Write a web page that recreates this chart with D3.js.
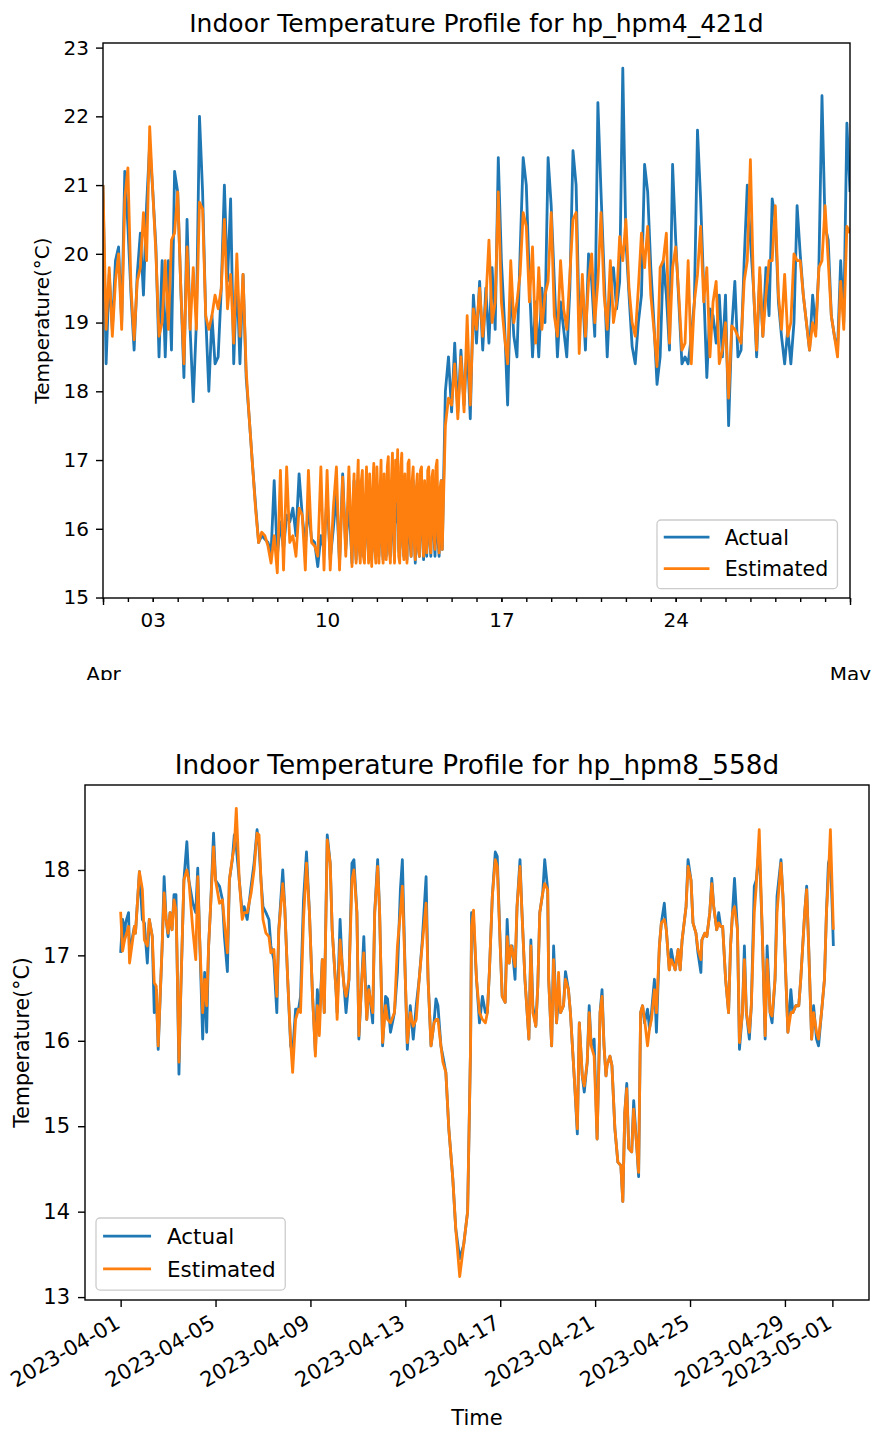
<!DOCTYPE html>
<html>
<head>
<meta charset="utf-8">
<script src="https://cdn.jsdelivr.net/npm/d3@7"></script>
<style>
  body { margin: 0; background: #fff; }
  svg { display: block; }
</style>
</head>
<body>
<script>
// hp_hpm4_421d, read in three blocks: each block has a first hour (since 2023-04-01 00:00)
// and a step in hours between readings
const hpm4BlockStart = [0, 240, 330];
const hpm4BlockStep = [3, 1, 3];

// block 1: 1-10 April, every 3 hours, one row per day
const hpm4ActualWarm = [
  21.0, 18.4, 19.7, 18.9, 19.9, 20.1, 19.0, 21.2,
  20.4, 19.4, 18.6, 19.7, 20.3, 19.4, 20.7, 21.6,
  20.9, 20.1, 18.5, 19.9, 18.5, 19.9, 18.6, 21.2,
  20.9, 19.5, 18.2, 20.5, 18.9, 17.85, 19.0, 22.0,
  20.9, 19.1, 18.0, 19.1, 18.4, 18.5, 19.5, 21.0,
  19.6, 20.8, 18.4, 19.7, 18.4, 19.7, 18.2, 17.6,
  16.95, 16.35, 15.8, 15.9, 15.85, 15.8, 15.65, 16.7,
  15.6, 16.1, 15.7, 16.2, 16.1, 16.3, 15.9, 16.8,
  16.2, 15.75, 16.3, 15.85, 15.8, 15.45, 15.9, 15.7,
  16.5, 15.55, 16.0, 16.5, 15.5, 16.8, 15.7, 16.4
];
const hpm4EstimatedWarm = [
  21.0, 18.9, 19.8, 18.8, 19.6, 20.0, 18.9, 20.8,
  21.25, 19.5, 18.75, 19.6, 19.8, 20.6, 19.9, 21.85,
  20.9, 20.0, 18.8, 19.0, 19.9, 18.9, 20.2, 20.3,
  20.9, 19.5, 18.4, 20.1, 18.9, 19.8, 18.9, 20.75,
  20.65, 19.1, 18.9, 19.1, 19.4, 19.2, 19.5, 20.5,
  19.2, 19.7, 18.7, 20.0, 18.8, 19.7, 18.3, 17.6,
  16.95, 16.3, 15.8, 15.95, 15.9, 15.75, 15.5, 15.9,
  15.36, 16.85, 15.4, 16.9, 15.8, 15.9, 15.6, 16.3,
  16.2, 15.4, 16.85, 15.8, 15.75, 15.6, 16.9, 15.4,
  16.85, 15.4, 16.3, 16.9, 15.4, 16.75, 15.6, 16.9
];

// block 2: 11-14 April, hourly
const hpm4ActualCold = [
  15.5, 16.1, 16.7, 15.9, 15.55, 16.3, 16.7, 15.8,
  15.6, 16.4, 16.6, 15.7, 15.55, 16.2, 16.5, 15.9,
  15.6, 16.4, 15.9, 15.55, 16.3, 16.5, 15.7, 15.6,
  16.4, 16.2, 15.6, 16.1, 16.5, 15.8, 15.55, 16.3,
  16.0, 15.6, 16.4, 16.5, 15.7, 15.6, 16.2, 16.6,
  15.9, 15.55, 16.5, 16.1, 16.6, 15.7, 15.6, 16.4,
  16.5, 15.8, 15.6, 16.3, 15.9, 15.55, 16.4, 16.6,
  15.8, 15.6, 16.3, 16.7, 15.9, 15.5, 16.2, 16.5,
  15.7, 15.6, 16.4, 16.7, 15.9, 15.55, 16.3, 16.0,
  15.6, 16.4, 16.6, 15.8, 15.6, 16.3, 16.7, 15.9,
  15.6, 16.4, 16.5, 15.8, 15.6, 16.2, 16.7, 15.7
];
const hpm4EstimatedCold = [
  15.45, 16.4, 16.8, 15.8, 15.5, 16.6, 17.0, 15.7,
  15.5, 16.7, 16.85, 15.6, 15.5, 16.5, 16.9, 15.9,
  15.5, 16.8, 16.0, 15.45, 16.6, 16.95, 15.7, 15.5,
  16.9, 16.4, 15.5, 16.5, 17.0, 15.8, 15.5, 16.8,
  16.2, 15.55, 16.9, 17.05, 15.7, 15.5, 16.7, 17.1,
  16.0, 15.5, 17.0, 16.4, 17.15, 15.6, 15.5, 16.9,
  17.1, 15.8, 15.55, 16.8, 16.1, 15.5, 16.95, 17.0,
  15.9, 15.6, 16.7, 16.9, 15.8, 15.55, 16.6, 16.8,
  15.7, 15.6, 16.85, 16.9, 15.9, 15.6, 16.7, 16.2,
  15.65, 16.85, 16.9, 15.8, 15.65, 16.75, 16.85, 15.9,
  15.7, 16.9, 17.0, 15.9, 15.65, 16.6, 16.7, 15.7
];

// block 3: 14 April 18:00 to 1 May, every 3 hours
const hpm4ActualHeated = [
  18.0, 18.5,
  17.7, 18.7, 17.7, 18.6, 17.8, 18.7, 17.6, 19.4,
  18.7, 19.6, 18.6, 19.5, 18.7, 19.8, 18.9, 21.4,
  19.9, 19.0, 17.8, 19.6, 18.8, 18.5, 20.0, 21.4,
  21.0, 19.6, 18.5, 19.3, 18.5, 19.5, 19.0, 21.4,
  20.7, 19.6, 18.5, 19.3, 18.9, 18.5, 19.5, 21.5,
  21.0, 19.0, 19.5, 18.6, 20.0, 19.6, 18.8, 22.2,
  20.9, 19.7, 18.5, 19.5, 19.8, 19.2, 19.6, 22.7,
  20.2, 19.4, 18.65, 18.4, 19.0, 19.4, 21.3, 20.9,
  19.8, 19.0, 18.1, 18.5, 19.9, 19.4, 18.6, 21.3,
  20.2, 19.3, 18.4, 18.5, 18.4, 18.8, 19.3, 21.8,
  20.8, 19.5, 18.2, 19.2, 19.1, 18.7, 19.4, 18.5,
  19.4, 17.5, 18.9, 19.6, 18.5, 18.6, 19.9, 21.0,
  20.2, 19.5, 18.5, 19.7, 18.8, 19.8, 19.1, 20.8,
  20.5, 19.3, 18.8, 18.4, 18.9, 18.4, 19.0, 20.7,
  20.0, 19.4, 19.0, 18.6, 19.4, 18.9, 19.8, 22.3,
  20.4, 20.2, 19.1, 18.8, 18.6, 19.9, 19.0, 21.9,
  20.9
];
const hpm4EstimatedHeated = [
  17.5, 17.9,
  17.8, 18.4, 17.6, 18.5, 17.7, 19.1, 17.8, 19.2,
  18.9, 19.5, 18.8, 19.3, 20.2, 19.0, 19.3, 20.9,
  19.3, 18.8, 18.4, 19.9, 19.0, 19.3, 19.7, 20.6,
  20.4, 19.3, 20.1, 18.7, 19.8, 18.9, 19.4, 19.6,
  20.6, 19.1, 18.8, 19.9, 19.2, 18.9, 19.7, 20.5,
  20.6, 18.55, 19.7, 18.8, 19.6, 20.0, 19.0, 19.6,
  20.6, 19.4, 18.9, 19.9, 19.0, 19.3, 20.25, 19.9,
  20.5, 19.5, 19.0, 18.8, 19.5, 20.3, 19.8, 20.4,
  19.4, 18.9, 18.36, 19.8, 19.9, 20.3, 18.7, 19.8,
  20.1, 19.4, 18.6, 18.7, 19.9, 18.4, 19.3, 19.7,
  20.4, 19.3, 19.8, 18.5, 19.3, 19.6, 18.4, 18.6,
  19.0, 17.9, 18.95, 18.9, 18.8, 18.7, 19.6, 19.9,
  21.37, 19.5, 18.6, 19.8, 18.8, 19.4, 19.9, 19.9,
  20.7, 19.4, 18.9, 19.7, 18.8, 19.0, 20.0, 19.9,
  19.9, 19.4, 19.0, 18.6, 19.0, 18.8, 19.8, 19.9,
  20.7, 19.9, 19.1, 18.8, 18.5, 19.6, 18.9, 20.4,
  20.3
];
const hpm4DayLabels = [3, 10, 17, 24];
const hpm4TempTicks = [15, 16, 17, 18, 19, 20, 21, 22, 23];

// hp_hpm8_558d: hours since 2023-04-01 00:00, with readings at those hours
const hpm8Hours = [
  0, 2, 4, 5, 8, 9, 14, 15, 19, 22,
  24, 27, 29, 32, 34, 36, 38, 42, 44, 46,
  48, 50, 52, 54, 56, 57, 59, 61, 64, 67,
  69, 73, 76, 78, 80, 83, 85, 87, 89, 91,
  94, 96, 100, 103, 105, 108, 110, 113, 115, 117,
  120, 123, 125, 128, 132, 135, 138, 140, 142, 144,
  147, 150, 152, 155, 158, 160, 164, 166, 169, 172,
  174, 177, 180, 182, 185, 188, 191, 194, 197, 199,
  201, 204, 206, 209, 212, 214, 218, 219, 222, 224,
  226, 228, 231, 234, 236, 239, 241, 244, 246, 249,
  251, 255, 257, 260, 262, 265, 268, 270, 273, 277,
  280, 283, 285, 288, 290, 293, 296, 299, 302, 305,
  309, 311, 314, 317, 319, 321, 324, 326, 329, 332,
  336, 339, 343, 347, 351, 354, 355, 357, 360, 363,
  366, 369, 371, 373, 376, 379, 381, 384, 386, 389,
  391, 393, 395, 396, 399, 401, 404, 406, 409, 413,
  415, 417, 420, 422, 424, 427, 429, 432, 433, 436,
  438, 441, 443, 445, 448, 450, 453, 455, 459, 462,
  464, 467, 469, 472, 474, 476, 479, 482, 485, 487,
  489, 491, 492, 495, 497, 500, 503, 506, 508, 510,
  512, 514, 517, 519, 522, 524, 526, 528, 530, 533,
  535, 537, 540, 542, 545, 547, 550, 552, 555, 557,
  560, 561, 564, 566, 568, 572, 574, 577, 579, 582,
  584, 587, 588, 591, 593, 596, 598, 600, 603, 605,
  607, 609, 612, 615, 617, 619, 621, 624, 626, 629,
  631, 633, 636, 638, 641, 643, 646, 649, 652, 654,
  657, 659, 662, 664, 668, 670, 673, 675, 678, 680,
  683, 686, 688, 690, 692, 694, 696, 699, 701, 704,
  706, 709, 712, 714, 716, 718, 720, 721
];
const hpm8Actual = [
  17.03, 17.42, 17.18, 17.38, 17.5, 17.03, 17.34, 17.26, 17.98, 17.42,
  17.38, 16.91, 17.42, 17.22, 16.33, 16.6, 15.9, 17.11, 17.92, 17.42,
  17.22, 17.5, 17.3, 17.71, 17.71, 17.03, 15.61, 16.64, 17.88, 18.33,
  17.88, 17.61, 17.5, 18.02, 17.18, 16.02, 16.8, 16.1, 17.11, 17.57,
  18.43, 17.88, 17.81, 17.65, 17.22, 16.81, 17.88, 18.12, 18.41, 18.27,
  17.88, 17.5, 17.57, 17.42, 17.81, 18.08, 18.47, 18.27, 17.88, 17.57,
  17.5, 17.42, 17.11, 16.95, 16.33, 17.3, 18.0, 17.57, 16.72, 15.94,
  15.86, 16.37, 16.37, 16.52, 17.65, 18.21, 17.5, 16.56, 15.86, 16.6,
  16.25, 16.95, 16.33, 18.41, 18.08, 17.3, 16.56, 16.33, 17.42, 16.91,
  16.64, 16.33, 16.72, 18.08, 18.12, 17.5, 16.02, 16.72, 17.22, 16.25,
  16.64, 16.21, 17.5, 18.12, 17.5, 15.94, 16.52, 16.49, 16.1, 16.33,
  16.8, 17.77, 18.12, 16.72, 15.9, 16.41, 16.02, 16.41, 16.72, 17.15,
  17.92, 16.72, 15.94, 16.21, 16.49, 16.41, 15.94, 15.82, 15.63, 14.97,
  14.39, 13.8, 13.45, 13.61, 14.0, 15.94, 17.5, 17.42, 16.72, 16.21,
  16.52, 16.33, 16.33, 16.8, 17.69, 18.21, 18.16, 17.11, 16.52, 16.45,
  17.42, 16.91, 17.11, 17.11, 16.72, 17.57, 18.12, 17.5, 16.72, 16.02,
  17.18, 16.41, 16.17, 16.64, 17.5, 17.73, 18.12, 17.77, 16.72, 15.94,
  17.11, 16.21, 16.52, 16.33, 16.41, 16.81, 16.6, 16.33, 15.55, 14.91,
  16.21, 15.59, 15.4, 15.75, 16.41, 15.94, 16.02, 14.85, 16.33, 16.6,
  15.94, 15.59, 15.71, 15.82, 15.71, 14.97, 14.58, 14.54, 14.12, 15.16,
  15.5, 14.74, 14.7, 15.3, 14.78, 14.41, 16.33, 16.41, 16.21, 16.37,
  16.14, 16.33, 16.72, 16.1, 17.11, 17.38, 17.61, 17.3, 16.83, 17.07,
  16.87, 16.83, 17.07, 16.83, 17.18, 17.57, 18.12, 17.88, 17.38, 17.26,
  17.03, 16.8, 17.18, 17.26, 17.22, 17.5, 17.9, 17.57, 17.3, 17.5,
  17.34, 17.34, 16.72, 16.33, 17.11, 17.5, 17.9, 17.3, 15.9, 16.33,
  17.11, 16.33, 16.02, 16.41, 17.81, 17.88, 18.27, 17.3, 16.02, 17.11,
  16.33, 16.21, 16.72, 17.69, 18.12, 17.69, 16.72, 16.1, 16.6, 16.33,
  16.41, 16.41, 16.72, 17.11, 17.5, 17.81, 17.11, 16.02, 16.41, 16.02,
  15.94, 16.33, 16.72, 17.5, 18.08, 18.16, 17.5, 17.11
];
const hpm8Estimated = [
  17.51, 17.05, 17.18, 17.22, 17.34, 16.91, 17.34, 17.26, 17.98, 17.77,
  17.18, 17.11, 17.42, 17.22, 16.68, 16.64, 15.94, 17.11, 17.73, 17.42,
  17.26, 17.5, 17.3, 17.65, 17.53, 17.03, 15.75, 16.64, 17.88, 18.0,
  17.88, 17.3, 16.95, 17.92, 17.18, 16.33, 16.72, 16.41, 17.11, 17.57,
  18.27, 17.88, 17.61, 17.65, 17.38, 17.03, 17.88, 18.14, 18.27, 18.72,
  17.88, 17.42, 17.5, 17.5, 17.73, 18.0, 18.43, 18.41, 17.88, 17.42,
  17.26, 17.22, 17.03, 17.07, 16.52, 17.3, 17.84, 17.57, 16.72, 15.98,
  15.63, 16.25, 16.37, 16.33, 17.42, 18.08, 17.5, 16.56, 15.82, 16.41,
  16.06, 16.95, 16.33, 18.35, 18.08, 17.3, 16.56, 16.25, 17.18, 16.91,
  16.64, 16.52, 16.72, 17.88, 18.0, 17.5, 16.06, 16.72, 17.03, 16.25,
  16.6, 16.33, 17.5, 18.04, 17.5, 15.98, 16.41, 16.25, 16.21, 16.33,
  17.11, 17.5, 17.81, 16.72, 15.98, 16.33, 16.17, 16.25, 16.72, 17.11,
  17.61, 16.72, 15.94, 16.21, 16.25, 16.25, 15.94, 15.75, 15.63, 14.97,
  14.39, 13.8, 13.24, 13.61, 14.0, 15.94, 17.34, 17.53, 16.72, 16.33,
  16.25, 16.21, 16.33, 16.8, 17.69, 18.12, 18.04, 17.11, 16.52, 16.45,
  17.22, 16.91, 17.11, 17.07, 16.87, 17.57, 18.04, 17.5, 16.72, 16.02,
  17.11, 16.33, 16.17, 16.64, 17.5, 17.73, 17.84, 17.77, 16.72, 15.94,
  16.95, 16.21, 16.8, 16.33, 16.41, 16.72, 16.6, 16.33, 15.55, 14.97,
  16.21, 15.59, 15.47, 15.75, 16.33, 15.94, 15.82, 14.85, 16.33, 16.52,
  15.94, 15.59, 15.71, 15.82, 15.71, 14.97, 14.58, 14.54, 14.12, 15.16,
  15.44, 14.74, 14.7, 15.2, 14.78, 14.46, 16.33, 16.41, 16.25, 15.94,
  16.14, 16.25, 16.6, 16.33, 17.11, 17.38, 17.42, 17.3, 16.83, 16.95,
  16.87, 16.83, 17.07, 16.83, 17.18, 17.57, 18.04, 17.88, 17.38, 17.26,
  17.07, 16.95, 17.18, 17.26, 17.22, 17.5, 17.84, 17.57, 17.3, 17.38,
  17.34, 17.34, 16.72, 16.33, 17.11, 17.5, 17.57, 17.3, 15.98, 16.33,
  16.95, 16.33, 16.1, 16.41, 17.5, 17.81, 18.47, 17.3, 16.06, 16.95,
  16.33, 16.29, 16.72, 17.5, 18.08, 17.69, 16.72, 16.1, 16.33, 16.33,
  16.41, 16.41, 16.72, 17.11, 17.5, 17.77, 17.11, 16.02, 16.33, 16.1,
  16.02, 16.33, 16.72, 17.5, 17.92, 18.47, 17.69, 17.3
];
const hpm8DateTicks = ["2023-04-01", "2023-04-05", "2023-04-09", "2023-04-13", "2023-04-17",
  "2023-04-21", "2023-04-25", "2023-04-29", "2023-05-01"];
const hpm8TempTicks = [13, 14, 15, 16, 17, 18];

const seriesNames = ["Actual", "Estimated"];
const seriesColors = ["#1f77b4", "#ff7f0e"];

const FONT = '"DejaVu Sans", sans-serif';
const HOUR = 3600 * 1000;
const start = Date.UTC(2023, 3, 1);
const end = Date.UTC(2023, 4, 1);

function padded(lo, hi) {
  const p = (hi - lo) * 0.05;
  return [lo - p, hi + p];
}

function styleAxis(g, size) {
  g.attr("font-family", FONT).attr("font-size", size);
  g.select(".domain").remove();
  g.selectAll(".tick line").attr("stroke", "#000").attr("stroke-width", 1.4);
  g.selectAll(".tick text").attr("fill", "#000");
}

function drawLines(svg, id, x, y, rows, box) {
  svg.append("clipPath").attr("id", id).append("rect")
    .attr("x", box.left).attr("y", box.top)
    .attr("width", box.right - box.left).attr("height", box.bottom - box.top);
  ["actual", "estimated"].forEach((key, k) => {
    svg.append("path")
      .datum(rows)
      .attr("clip-path", `url(#${id})`)
      .attr("fill", "none")
      .attr("stroke", seriesColors[k])
      .attr("stroke-width", 2.8)
      .attr("stroke-linejoin", "round")
      .attr("d", d3.line().x(d => x(d.date)).y(d => y(d[key])));
  });
}

function drawFrame(svg, box) {
  svg.append("rect")
    .attr("x", box.left).attr("y", box.top)
    .attr("width", box.right - box.left).attr("height", box.bottom - box.top)
    .attr("fill", "none").attr("stroke", "#000").attr("stroke-width", 1.4);
}

function drawLegend(svg, x0, y0, s) {
  const g = svg.append("g").attr("transform", `translate(${x0},${y0})`);
  const box = g.append("rect")
    .attr("height", 3.35 * s).attr("rx", 4)
    .attr("fill", "#fff").attr("fill-opacity", 0.8)
    .attr("stroke", "#ccc").attr("stroke-width", 1.3);
  let widest = 0;
  seriesNames.forEach((name, k) => {
    const cy = 0.84 * s + k * 1.53 * s;
    g.append("line")
      .attr("x1", 0.33 * s).attr("x2", 2.56 * s)
      .attr("y1", cy).attr("y2", cy)
      .attr("stroke", seriesColors[k]).attr("stroke-width", 2.8);
    const t = g.append("text")
      .attr("x", 3.3 * s).attr("y", cy + 0.36 * s)
      .attr("font-family", FONT).attr("font-size", s)
      .attr("fill", "#000")
      .text(name);
    widest = Math.max(widest, t.node().getComputedTextLength());
  });
  box.attr("width", 3.3 * s + widest + 0.45 * s);
}

// ---------- chart 1 : hp_hpm4_421d ----------
const hpm4ActualBlocks = [hpm4ActualWarm, hpm4ActualCold, hpm4ActualHeated];
const hpm4EstimatedBlocks = [hpm4EstimatedWarm, hpm4EstimatedCold, hpm4EstimatedHeated];
const rows4 = [];
hpm4ActualBlocks.forEach((block, b) => {
  block.forEach((v, i) => {
    rows4.push({
      date: new Date(start + (hpm4BlockStart[b] + i * hpm4BlockStep[b]) * HOUR),
      actual: v,
      estimated: hpm4EstimatedBlocks[b][i]
    });
  });
});

const svg1 = d3.select("body").append("svg")
  .attr("width", 873).attr("height", 680)
  .style("overflow", "hidden");

const box1 = { left: 103, right: 850, top: 43, bottom: 598 };
const x1 = d3.scaleUtc().domain([start, end]).range([box1.left, box1.right]);
const all4 = rows4.flatMap(d => [d.actual, d.estimated]);
const y1 = d3.scaleLinear().domain(padded(d3.min(all4), d3.max(all4))).range([box1.bottom, box1.top]);

drawLines(svg1, "clip1", x1, y1, rows4, box1);

svg1.append("g")
  .attr("transform", `translate(${box1.left},0)`)
  .call(d3.axisLeft(y1).tickValues(hpm4TempTicks).tickSize(7).tickPadding(7).tickFormat(d3.format("d")))
  .call(g => styleAxis(g, 20));

// daily minor ticks
svg1.append("g")
  .attr("transform", `translate(0,${box1.bottom})`)
  .call(d3.axisBottom(x1).ticks(d3.utcDay.every(1)).tickSize(4).tickFormat(""))
  .call(g => styleAxis(g, 20));

// labelled days
svg1.append("g")
  .attr("transform", `translate(0,${box1.bottom})`)
  .call(d3.axisBottom(x1)
    .tickValues(hpm4DayLabels.map(d => new Date(Date.UTC(2023, 3, d))))
    .tickSize(4).tickPadding(11)
    .tickFormat(d3.utcFormat("%d")))
  .call(g => styleAxis(g, 20));

// month ticks
svg1.append("g")
  .attr("transform", `translate(0,${box1.bottom})`)
  .call(d3.axisBottom(x1)
    .tickValues([new Date(start), new Date(end)])
    .tickSize(7).tickPadding(62)
    .tickFormat(d3.utcFormat("%b")))
  .call(g => styleAxis(g, 20));

drawFrame(svg1, box1);

svg1.append("text")
  .attr("x", (box1.left + box1.right) / 2).attr("y", 32)
  .attr("text-anchor", "middle")
  .attr("font-family", FONT).attr("font-size", 25)
  .text("Indoor Temperature Profile for hp_hpm4_421d");

svg1.append("text")
  .attr("transform", `translate(49,${(box1.top + box1.bottom) / 2}) rotate(-90)`)
  .attr("text-anchor", "middle")
  .attr("font-family", FONT).attr("font-size", 20)
  .text("Temperature(°C)");

drawLegend(svg1, 657, 520, 20.5);

// ---------- chart 2 : hp_hpm8_558d ----------
const rows8 = hpm8Hours.map((h, i) => ({
  date: new Date(start + h * HOUR),
  actual: hpm8Actual[i],
  estimated: hpm8Estimated[i]
}));

const svg2 = d3.select("body").append("svg")
  .attr("width", 873).attr("height", 752);

const box2 = { left: 85, right: 869, top: 105, bottom: 620 };
const hExt = padded(d3.min(hpm8Hours), d3.max(hpm8Hours));
const x2 = d3.scaleUtc()
  .domain([new Date(start + hExt[0] * HOUR), new Date(start + hExt[1] * HOUR)])
  .range([box2.left, box2.right]);
const all8 = hpm8Actual.concat(hpm8Estimated);
const y2 = d3.scaleLinear().domain(padded(d3.min(all8), d3.max(all8))).range([box2.bottom, box2.top]);

drawLines(svg2, "clip2", x2, y2, rows8, box2);

svg2.append("g")
  .attr("transform", `translate(${box2.left},0)`)
  .call(d3.axisLeft(y2).tickValues(hpm8TempTicks).tickSize(7).tickPadding(8).tickFormat(d3.format("d")))
  .call(g => styleAxis(g, 21));

const parseDay = d3.utcParse("%Y-%m-%d");
svg2.append("g")
  .attr("transform", `translate(0,${box2.bottom})`)
  .call(d3.axisBottom(x2)
    .tickValues(hpm8DateTicks.map(parseDay))
    .tickSize(7)
    .tickFormat(d3.utcFormat("%Y-%m-%d")))
  .call(g => styleAxis(g, 21))
  .call(g => g.selectAll(".tick text")
    .attr("x", 0).attr("y", 0).attr("dy", "0.71em")
    .attr("text-anchor", "end")
    .attr("transform", "translate(-7,14) rotate(-30)"));

drawFrame(svg2, box2);

svg2.append("text")
  .attr("x", (box2.left + box2.right) / 2).attr("y", 94)
  .attr("text-anchor", "middle")
  .attr("font-family", FONT).attr("font-size", 26.3)
  .text("Indoor Temperature Profile for hp_hpm8_558d");

svg2.append("text")
  .attr("transform", `translate(29,${(box2.top + box2.bottom) / 2}) rotate(-90)`)
  .attr("text-anchor", "middle")
  .attr("font-family", FONT).attr("font-size", 20.5)
  .text("Temperature(°C)");

svg2.append("text")
  .attr("x", (box2.left + box2.right) / 2).attr("y", 745)
  .attr("text-anchor", "middle")
  .attr("font-family", FONT).attr("font-size", 21)
  .text("Time");

drawLegend(svg2, 96, 538, 21.5);
</script>
</body>
</html>
